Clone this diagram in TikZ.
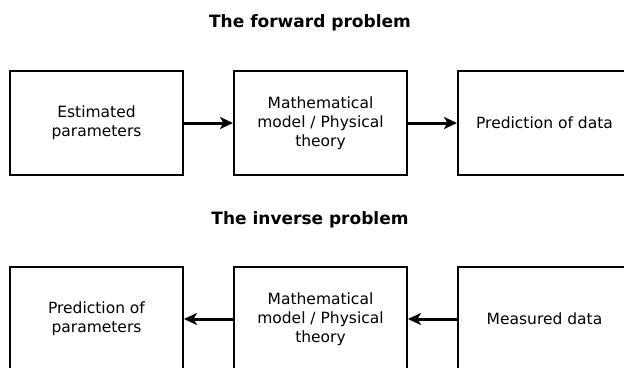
\documentclass[tikz,border=0pt]{standalone}
\usepackage{fontspec}
\setmainfont{DejaVu Sans}
\usetikzlibrary{arrows.meta,positioning}
\begin{document}
\begin{tikzpicture}[x=1pt,y=1pt,
    caja/.style={draw,line width=2pt,minimum width=173pt,minimum height=104pt,
      inner sep=0pt,align=center,font=\fontsize{15.5}{19}\selectfont},
    titulo/.style={font=\fontsize{17}{20}\selectfont\bfseries},
    flecha/.style={line width=3pt,-{Stealth[length=13pt,width=12pt,inset=3.5pt]}}]
  \clip (0,0) rectangle (624,-367);
  % el problema directo
  \node[titulo] (tdir) at (310,-23) {The forward problem};
  \node[caja] (est) at (96.5,-123) {Estimated\\parameters};
  \node[caja,right=49pt of est] (modd) {Mathematical\\model / Physical\\theory};
  \node[caja,right=49pt of modd] (pdat) {Prediction of data};
  \draw[flecha] (est) -- (modd);
  \draw[flecha] (modd) -- (pdat);
  % el problema inverso
  \node[titulo] (tinv) at (310,-220) {The inverse problem};
  \node[caja] (ppar) at (96.5,-319) {Prediction of\\parameters};
  \node[caja,right=49pt of ppar] (modi) {Mathematical\\model / Physical\\theory};
  \node[caja,right=49pt of modi] (mdat) {Measured data};
  \draw[flecha] (mdat) -- (modi);
  \draw[flecha] (modi) -- (ppar);
\end{tikzpicture}
\end{document}
